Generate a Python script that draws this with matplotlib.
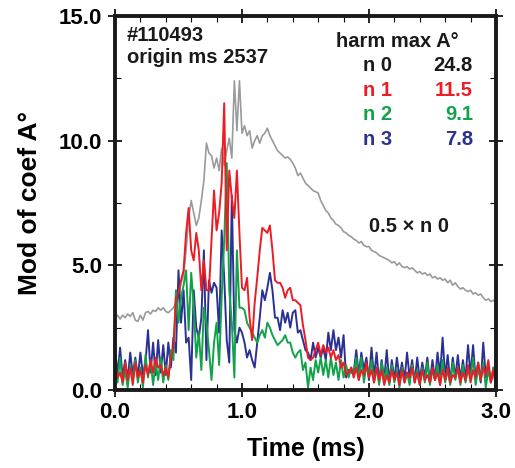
import numpy as np
import matplotlib
matplotlib.use("Agg")
import matplotlib.pyplot as plt
from matplotlib.ticker import MultipleLocator

plt.rcParams['font.family'] = ['Liberation Sans', 'DejaVu Sans']
plt.rcParams['font.weight'] = 'bold'

shot = "#110493"
origin = "origin ms 2537"
harm_names = ["n 0", "n 1", "n 2", "n 3"]
harm_max = ["24.8", "11.5", "9.1", "7.8"]
harm_colors = ["#1a1a1a", "#ec1c24", "#12a24a", "#2b3192"]

# 0.5 x n0, sampled every 0.02 ms
half_n0 = [
    2.9, 3.0, 2.85, 3.0, 2.9, 3.05, 2.95, 3.1, 2.8, 2.75,
    3.0, 2.8, 3.1, 3.15, 3.05, 3.2, 3.15, 3.3, 3.2, 3.3,
    3.15, 3.1, 3.2, 3.3, 3.5, 3.7, 4.3, 4.6, 5.6, 6.9,
    7.6, 7.1, 6.6, 6.9, 7.6, 8.4, 9.9, 9.5, 9.4, 8.9,
    9.3, 8.8, 9.7, 9.0, 9.6, 10.1, 9.3, 12.4, 10.4, 12.4,
    10.3, 10.6, 10.2, 10.4, 9.7, 10.0, 10.2, 9.9, 10.2, 10.3,
    10.5, 10.2, 10.0, 9.8, 9.6, 9.5, 9.4, 9.3, 9.35, 9.25,
    9.1, 8.9, 8.6, 8.7, 8.5, 8.3, 8.2, 8.1, 8.0, 7.95,
    7.9, 7.6, 7.4, 7.2, 7.1, 6.9, 6.8, 6.65, 6.6, 6.5,
    6.35, 6.3, 6.2, 6.15, 6.05, 6.0, 5.9, 5.95, 5.8, 5.75,
    5.75, 5.6, 5.55, 5.5, 5.4, 5.35, 5.3, 5.25, 5.2, 5.1,
    5.15, 5.0, 5.1, 4.95, 4.9, 4.95, 4.85, 4.9, 4.8, 4.7,
    4.75, 4.65, 4.7, 4.6, 4.65, 4.5, 4.55, 4.45, 4.5, 4.4,
    4.45, 4.3, 4.4, 4.2, 4.3, 4.15, 4.05, 4.1, 4.0, 3.95,
    4.0, 3.85, 3.9, 3.8, 3.85, 3.7, 3.6, 3.65, 3.55, 3.6,
    3.5,
]

n1 = [
    0.9, 0.5, 0.7, 0.3, 1.1, 0.4, 0.9, 0.2, 1.1, 0.5,
    0.8, 0.3, 1.0, 0.6, 1.2, 0.7, 1.3, 0.9, 1.0, 0.6,
    0.9, 0.5, 1.3, 1.7, 3.7, 3.9, 4.4, 4.8, 6.3, 7.3,
    5.6, 5.2, 6.3, 5.6, 4.0, 5.2, 4.0, 4.0, 6.0, 8.0,
    6.4, 7.1, 8.3, 11.5, 5.6, 8.8, 7.7, 6.9, 8.8, 6.3,
    4.1, 4.0, 4.5, 2.9, 2.0, 3.5, 4.5, 5.6, 6.5, 6.4,
    6.3, 6.6, 5.6, 4.4, 4.3, 4.3, 4.1, 3.7, 4.0, 4.1,
    3.6, 3.6, 3.5, 3.4, 2.6, 2.0, 1.3, 1.2, 1.3, 1.6,
    1.9, 1.4, 1.8, 1.5, 1.7, 1.3, 1.6, 1.2, 1.4, 0.9,
    1.1, 0.6, 0.7, 0.9, 0.5, 0.9, 0.4, 0.8, 0.6, 1.1,
    0.5, 0.8, 0.3, 0.9, 0.4, 0.8, 0.2, 0.6, 0.3, 0.8,
    0.4, 0.7, 0.2, 0.8, 0.3, 0.7, 0.5, 0.9, 0.3, 0.7,
    0.2, 0.8, 0.4, 0.6, 0.3, 0.9, 0.4, 0.7, 0.2, 0.8,
    0.4, 0.9, 0.3, 0.6, 0.5, 0.9, 0.3, 0.7, 0.4, 1.0,
    0.3, 0.8, 0.5, 1.1, 0.4, 0.9, 0.6, 1.2, 0.3, 0.8,
    0.2,
]

n2 = [
    1.0, 0.3, 1.3, 0.2, 0.8, 0.1, 1.0, 0.4, 1.2, 0.3,
    0.9, 0.1, 1.4, 0.5, 1.2, 0.2, 1.1, 0.4, 1.3, 0.3,
    1.0, 0.4, 1.6, 1.2, 4.0, 2.7, 3.7, 4.2, 4.8, 2.4,
    4.7, 3.4, 1.3, 2.3, 0.8, 3.3, 2.7, 1.6, 0.4, 1.9,
    2.7, 1.0, 3.7, 6.0, 9.1, 4.0, 2.7, 0.5, 5.6, 3.3,
    3.3, 3.2, 2.7, 2.5, 2.3, 2.1, 1.9, 2.2, 2.4, 2.1,
    2.7, 2.5, 2.2, 2.0, 1.8, 1.9, 2.0, 2.2, 1.9, 1.9,
    1.5, 1.3, 1.5, 1.6, 0.8, 1.1, 0.1, 0.9, 0.4, 1.2,
    0.7, 1.3, 0.6, 1.2, 0.5, 1.3, 0.6, 1.1, 0.4, 1.2,
    0.5, 1.0, 0.5, 0.9, 0.6, 1.3, 0.4, 1.3, 0.3, 1.0,
    0.5, 1.2, 0.3, 0.9, 0.2, 1.1, 0.4, 0.9, 0.2, 1.0,
    0.3, 0.8, 0.1, 0.9, 0.3, 0.7, 0.2, 1.0, 0.4, 0.8,
    0.2, 0.9, 0.3, 1.1, 0.2, 0.8, 0.4, 1.0, 0.2, 1.2,
    0.3, 0.8, 0.2, 1.1, 0.4, 0.9, 0.2, 1.0, 0.3, 0.8,
    0.5, 1.3, 0.2, 0.9, 0.4, 1.1, 0.1, 0.8, 0.3, 0.9,
    0.1,
]

n3 = [
    1.7, 0.6, 1.7, 0.5, 1.2, 0.4, 1.5, 0.6, 1.3, 0.5,
    1.5, 0.6, 1.1, 2.4, 0.7, 1.9, 0.6, 2.0, 0.7, 1.8,
    0.6, 1.9, 0.9, 2.1, 1.5, 4.8, 2.7, 4.0, 1.9, 2.1,
    0.4, 4.0, 2.5, 2.1, 2.9, 5.6, 1.2, 4.4, 3.9, 4.3,
    4.1, 2.3, 6.4, 4.5, 2.0, 1.1, 7.8, 2.4, 1.9, 2.5,
    2.3, 1.9, 1.3, 1.6, 1.2, 0.9, 1.9, 2.9, 4.0, 3.6,
    4.1, 4.7, 4.0, 2.9, 2.9, 2.4, 3.2, 2.7, 3.1, 2.5,
    3.1, 3.2, 2.3, 2.4, 2.0, 1.6, 1.5, 1.2, 1.9, 1.3,
    1.7, 1.3, 1.7, 1.2, 2.3, 1.6, 2.4, 1.6, 2.1, 1.3,
    2.2, 0.5, 0.8, 0.7, 0.7, 1.6, 0.6, 1.5, 0.8, 1.3,
    0.4, 1.7, 0.5, 1.5, 0.3, 1.2, 0.4, 1.6, 0.3, 1.2,
    0.4, 1.3, 0.5, 1.1, 0.4, 1.5, 0.5, 1.2, 0.3, 1.3,
    0.4, 1.1, 0.5, 1.3, 0.3, 1.2, 0.4, 1.5, 0.6, 2.1,
    0.5, 1.4, 0.3, 1.3, 0.5, 1.4, 0.4, 1.2, 0.4, 1.8,
    0.6, 1.8, 0.4, 1.1, 0.3, 1.9, 0.5, 1.0, 0.3, 0.9,
    0.1,
]

fig = plt.figure(figsize=(5.15, 4.68), dpi=100)
ax = fig.add_axes([0.2233, 0.1667, 0.7397, 0.7991])

gray = "#9a9a9a"
ax.plot(np.linspace(0, 3, len(half_n0)), half_n0, color=gray, lw=1.2)
ax.plot(np.linspace(0, 3, len(n3)), n3, color=harm_colors[3], lw=1.4)
ax.plot(np.linspace(0, 3, len(n2)), n2, color=harm_colors[2], lw=1.4)
ax.plot(np.linspace(0, 3, len(n1)), n1, color=harm_colors[1], lw=1.4)

ax.set_xlim(0, 3.0)
ax.set_ylim(0, 15.0)
ax.xaxis.set_major_locator(MultipleLocator(1.0))
ax.xaxis.set_minor_locator(MultipleLocator(0.2))
ax.yaxis.set_major_locator(MultipleLocator(5.0))
ax.yaxis.set_minor_locator(MultipleLocator(2.5))
ax.xaxis.set_major_formatter(plt.FormatStrFormatter('%.1f'))
ax.yaxis.set_major_formatter(plt.FormatStrFormatter('%.1f'))
ax.tick_params(which='major', direction='inout', length=10, width=1.2,
               top=True, right=True, labelsize=16, pad=4)
ax.tick_params(which='minor', direction='in', length=4, width=0.8,
               top=True, right=True)
for lab in ax.get_xticklabels() + ax.get_yticklabels():
    lab.set_fontweight('bold')
for s in ax.spines.values():
    s.set_linewidth(2.8)
    s.set_color("#1a1a1a")

ax.set_xlabel("Time (ms)", fontsize=18, fontweight='bold', labelpad=10)
ax.set_ylabel("Mod of coef A°", fontsize=19, fontweight='bold', labelpad=12)

fs = 14.5
ax.text(0.094, 14.0, shot, fontsize=fs, fontweight='bold', color="#1a1a1a")
ax.text(0.094, 13.12, origin, fontsize=fs, fontweight='bold', color="#1a1a1a")
ax.text(1.74, 13.76, "harm max A°", fontsize=fs, fontweight='bold', color="#1a1a1a")
rows_y = [12.80, 11.79, 10.83, 9.83]
for name, mx, c, yy in zip(harm_names, harm_max, harm_colors, rows_y):
    ax.text(1.953, yy, name, fontsize=fs, fontweight='bold', color=c)
    ax.text(2.819, yy, mx, fontsize=fs, fontweight='bold', color=c, ha='right')
ax.text(2.0, 6.34, "0.5 × n 0", fontsize=fs, fontweight='bold', color="#1a1a1a")

fig.savefig("out.png", dpi=100)
